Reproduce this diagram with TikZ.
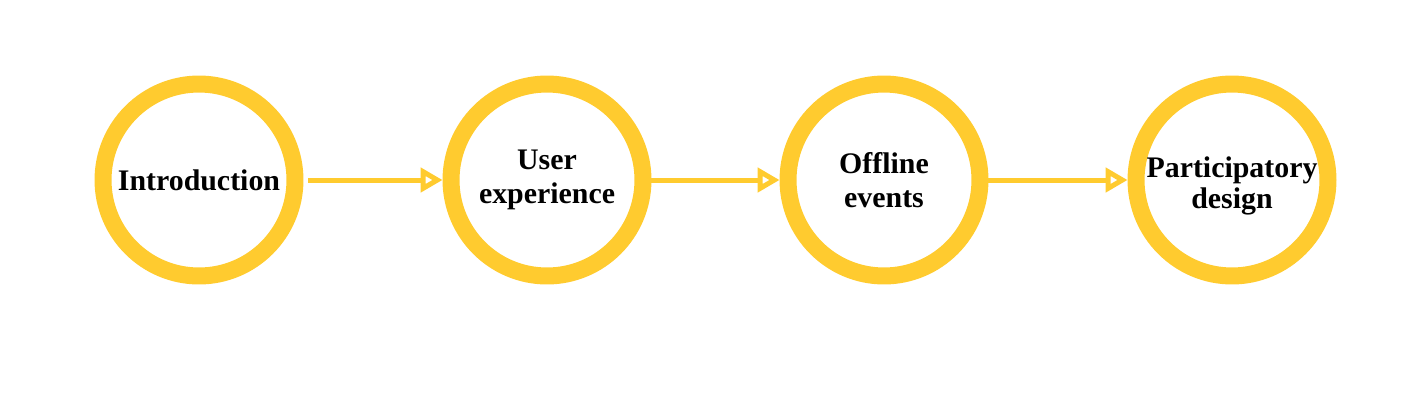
\documentclass[tikz,border=0pt]{standalone}
\usepackage{fontspec}
\setmainfont{Liberation Serif}
\usepackage{tikz}
\usetikzlibrary{arrows.meta}
\definecolor{ringyellow}{RGB}{255,203,47}

\begin{document}
\begin{tikzpicture}[x=0.02cm,y=-0.02cm]
\def\cRing{ringyellow}
\def\cText{black}
\def\y{180}
\tikzset{
  stage/.style={circle, draw=\cRing, line width=0.34cm, minimum size=3.84cm,
    inner sep=0pt, align=center, text=\cText,
    font=\fontsize{17}{19.5}\selectfont\bfseries},
  flow/.style={draw=\cRing, line width=0.1cm,
    -{Triangle[open, length=0.44cm, width=0.48cm, line width=0.1cm]}}
}
\useasboundingbox (0,0) rectangle (1402,400);
\node[stage] (intro) at (199,\y) {Introduction};
\node[stage] (ux) at (547,\y) {User\\experience};
\node[stage] (offline) at (884,\y) {Offline\\events};
\node[stage, font=\fontsize{17}{17.5}\selectfont\bfseries,
  text height=1.28cm] (design) at (1232,\y) {Participatory\\design};
\draw[flow, shorten <=0.1cm] (intro) -- (ux);
\draw[flow] (ux) -- (offline);
\draw[flow] (offline) -- (design);
\end{tikzpicture}
\end{document}
